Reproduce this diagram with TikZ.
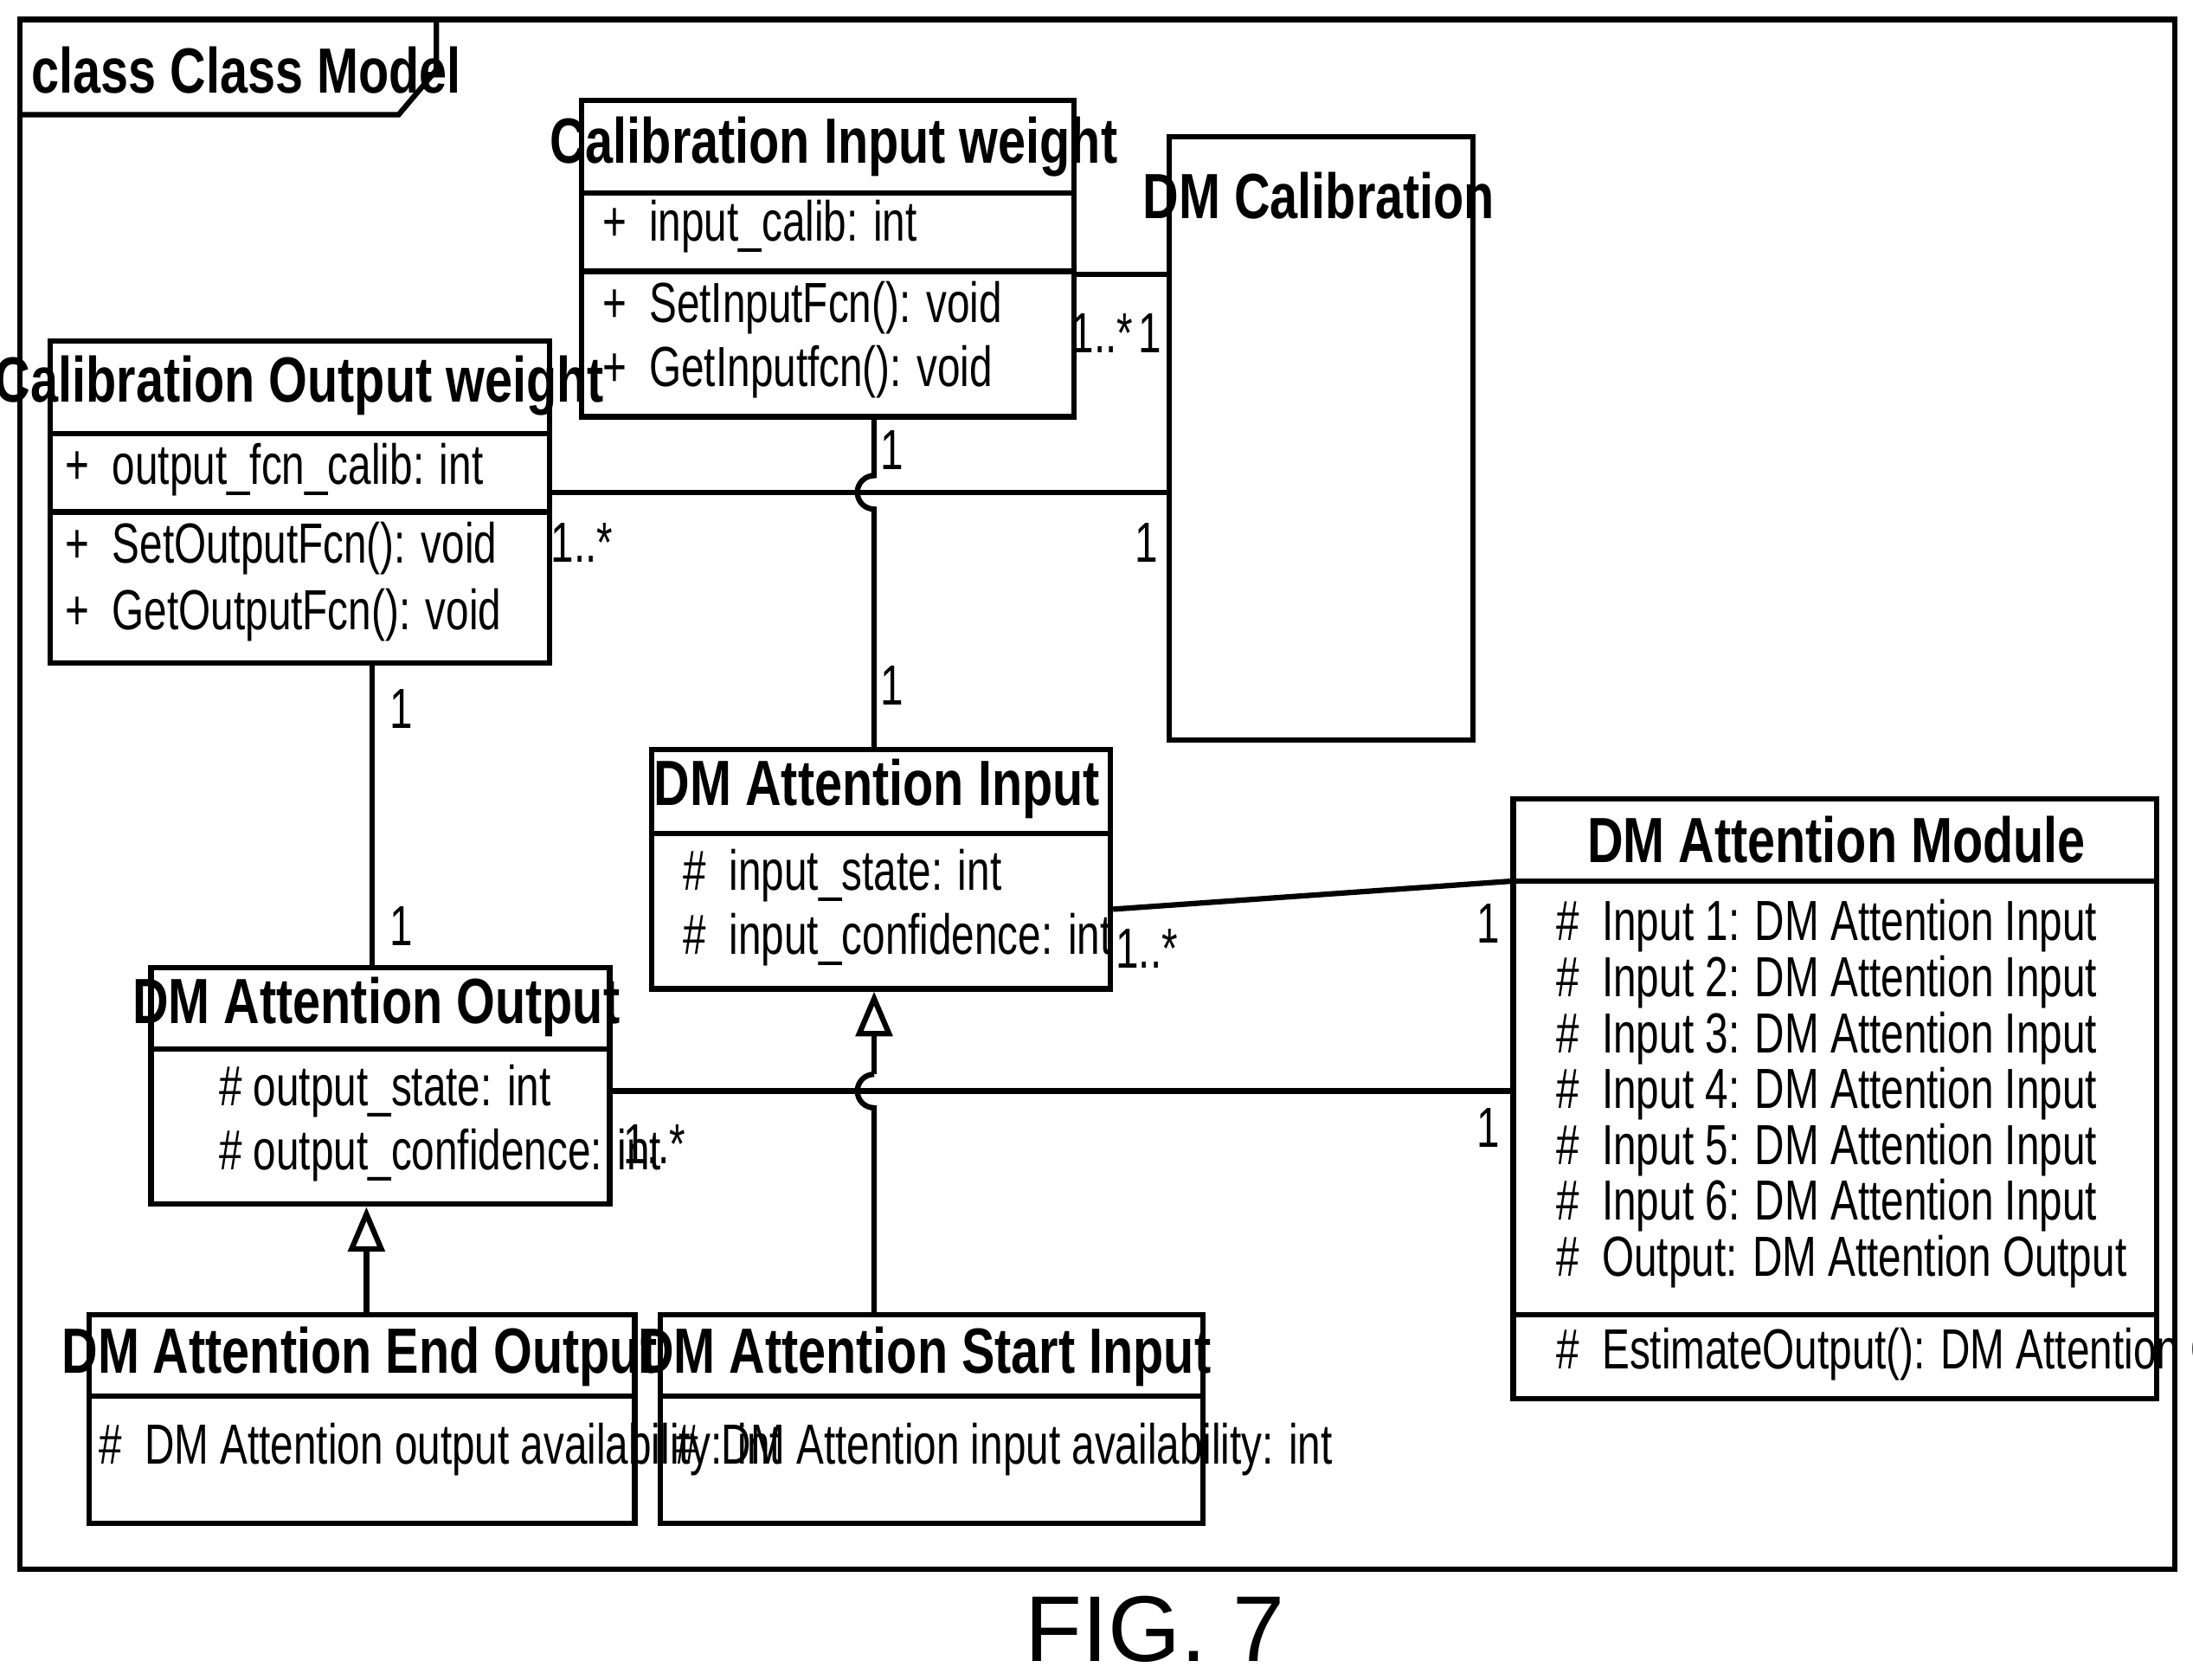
\documentclass[tikz,border=0pt]{standalone}
\usepackage{fontspec}
\setmainfont{Liberation Sans}
\newfontfamily\figfont{Liberation Sans}
\usetikzlibrary{arrows.meta}
\newcommand\narT[1]{\scalebox{0.78}[1]{#1}}
\newcommand\narM[1]{\scalebox{0.73}[1]{#1}}
\tikzset{
  box/.style={draw, line width=1.1pt, anchor=north west, inner sep=0pt},
  title/.style={font=\bfseries\fontsize{13}{15}\selectfont},
  member/.style={anchor=west, inner sep=0pt, font=\fontsize{11.5}{13}\selectfont},
  mult/.style={inner sep=0pt, font=\fontsize{11.5}{13}\selectfont},
  link/.style={line width=1.1pt},
  gen/.style={line width=1.1pt, -{Triangle[open, length=0.32cm, width=0.26cm]}}
}
\begin{document}
\begin{tikzpicture}
\useasboundingbox (0,0) rectangle (15.68,-12.01);
% frame
\draw[line width=1.1pt] (0.14,-0.14) rectangle (15.55,-11.22);
\draw[line width=1.1pt] (0.14,-0.82) -- (2.85,-0.82) -- (3.12,-0.50) -- (3.12,-0.14);
\node[anchor=west, inner sep=0pt, font=\bfseries\fontsize{13}{15}\selectfont] (frame) at (0.22,-0.50) {\narT{class Class Model}};
% Calibration Input weight
\node[box, minimum width=3.52cm, minimum height=2.26cm] (ciw) at (4.14,-0.70) {};
\node[title] at (5.96,-1.05) {\narT{Calibration Input weight}};
\draw[link] (4.14,-1.38) -- (7.66,-1.38);
\draw[link] (4.14,-1.94) -- (7.66,-1.94);
\node[member] at (4.30,-1.62) {\narM{+\ \ input\_calib: int}};
\node[member] at (4.30,-2.20) {\narM{+\ \ SetInputFcn(): void}};
\node[member] at (4.30,-2.66) {\narM{+\ \ GetInputfcn(): void}};
% DM Calibration
\node[box, minimum width=2.17cm, minimum height=4.31cm] (dmcal) at (8.34,-0.96) {};
\node[title] at (9.43,-1.40) {\narT{DM Calibration}};
% Calibration Output weight
\node[box, minimum width=3.57cm, minimum height=2.30cm] (cow) at (0.34,-2.42) {};
\node[title] at (2.14,-2.76) {\narT{Calibration Output weight}};
\draw[link] (0.34,-3.10) -- (3.91,-3.10);
\draw[link] (0.34,-3.66) -- (3.91,-3.66);
\node[member] at (0.46,-3.36) {\narM{+\ \ output\_fcn\_calib: int}};
\node[member] at (0.46,-3.92) {\narM{+\ \ SetOutputFcn(): void}};
\node[member] at (0.46,-4.40) {\narM{+\ \ GetOutputFcn(): void}};
% DM Attention Input
\node[box, minimum width=3.28cm, minimum height=1.71cm] (dmai) at (4.64,-5.34) {};
\node[title] at (6.27,-5.64) {\narT{DM Attention Input}};
\draw[link] (4.64,-5.96) -- (7.92,-5.96);
\node[member] at (4.88,-6.26) {\narM{\#\ \ input\_state: int}};
\node[member] at (4.88,-6.72) {\narM{\#\ \ input\_confidence: int}};
% DM Attention Module
\node[box, minimum width=4.60cm, minimum height=4.29cm] (dmam) at (10.80,-5.69) {};
\node[title] at (13.13,-6.00) {\narT{DM Attention Module}};
\draw[link] (10.80,-6.30) -- (15.40,-6.30);
\draw[link] (10.80,-9.40) -- (15.40,-9.40);
\foreach \i/\t in {1/Input 1: DM Attention Input, 2/Input 2: DM Attention Input,
  3/Input 3: DM Attention Input, 4/Input 4: DM Attention Input,
  5/Input 5: DM Attention Input, 6/Input 6: DM Attention Input,
  7/Output: DM Attention Output}
  \node[member] at (11.12,-6.22-0.40*\i) {\narM{\#\ \ \t}};
\node[member] at (11.12,-9.68) {\narM{\#\ \ EstimateOutput(): DM Attention Output}};
% DM Attention Output
\node[box, minimum width=3.28cm, minimum height=1.69cm] (dmao) at (1.06,-6.90) {};
\node[title] at (2.69,-7.20) {\narT{DM Attention Output}};
\draw[link] (1.06,-7.50) -- (4.34,-7.50);
\node[member] at (1.56,-7.80) {\narM{\# output\_state: int}};
\node[member] at (1.56,-8.26) {\narM{\# output\_confidence: int}};
% DM Attention End Output
\node[box, minimum width=3.90cm, minimum height=1.49cm] (dmaeo) at (0.62,-9.38) {};
\node[title] at (2.57,-9.70) {\narT{DM Attention End Output}};
\draw[link] (0.62,-9.98) -- (4.52,-9.98);
\node[member] at (0.70,-10.36) {\narM{\#\ \ DM Attention output availability: int}};
% DM Attention Start Input
\node[box, minimum width=3.88cm, minimum height=1.49cm] (dmasi) at (4.70,-9.38) {};
\node[title] at (6.61,-9.70) {\narT{DM Attention Start Input}};
\draw[link] (4.70,-9.98) -- (8.58,-9.98);
\node[member] at (4.82,-10.36) {\narM{\#\ \ DM Attention input availability: int}};
% associations
\draw[link] (ciw.east |- 0,-1.96) -- (dmcal.west |- 0,-1.96);
\draw[link] (cow.east |- 0,-3.52) -- (dmcal.west |- 0,-3.52);
\draw[link] (ciw.south -| 6.25,0) -- (6.25,-3.40) arc (90:270:0.12) -- (dmai.north -| 6.25,0);
\draw[link] (cow.south -| 2.66,0) -- (dmao.north -| 2.66,0);
\draw[link] (dmai.east |- 0,-6.50) -- (dmam.west |- 0,-6.30);
\draw[link] (dmao.east |- 0,-7.80) -- (dmam.west |- 0,-7.80);
% generalizations
\draw[link] (dmasi.north -| 6.25,0) -- (6.25,-7.92) arc (270:90:0.12) coordinate (hop);
\draw[gen] (hop) -- (dmai.south -| 6.25,0);
\draw[gen] (dmaeo.north -| 2.62,0) -- (dmao.south -| 2.62,0);
% multiplicities
\node[mult] at (7.88,-2.38) {\narM{1..*}};
\node[mult] at (8.22,-2.38) {\narM{1}};
\node[mult] at (6.38,-3.22) {\narM{1}};
\node[mult] at (6.38,-4.90) {\narM{1}};
\node[mult] at (4.16,-3.88) {\narM{1..*}};
\node[mult] at (8.20,-3.88) {\narM{1}};
\node[mult] at (2.87,-5.07) {\narM{1}};
\node[mult] at (2.87,-6.62) {\narM{1}};
\node[mult] at (8.20,-6.78) {\narM{1..*}};
\node[mult] at (10.64,-6.60) {\narM{1}};
\node[mult] at (4.68,-8.18) {\narM{1..*}};
\node[mult] at (10.64,-8.06) {\narM{1}};
\node[font=\figfont\fontsize{19}{22}\selectfont] (fig) at (8.26,-11.65) {FIG. 7};
\end{tikzpicture}
\end{document}
